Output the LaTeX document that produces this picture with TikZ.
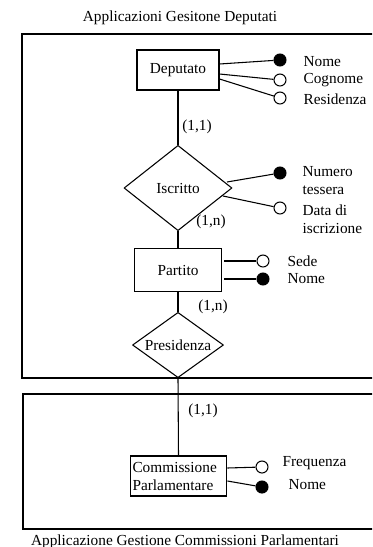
\documentclass[tikz,border=0pt]{standalone}
\usepackage{fontspec}
\setmainfont{Liberation Serif}
\usetikzlibrary{shapes.geometric,calc}
\begin{document}
\begin{tikzpicture}[x=0.75pt,y=-0.75pt, line width=0.8pt,
  every node/.style={font=\fontsize{11.5}{13.5}\selectfont},
  entity/.style={draw, rectangle, inner sep=0pt},
  rel/.style={draw, diamond, inner sep=0pt, line join=round},
  keyattr/.style={draw, fill=black, circle, inner sep=0pt, minimum size=9pt},
  attr/.style={draw, fill=white, circle, inner sep=0pt, minimum size=9pt},
  lbl/.style={anchor=west, inner sep=0pt, align=left},
  card/.style={inner sep=0pt}]
\useasboundingbox (0,0) rectangle (372,547);
\clip (0,0) rectangle (372,547);

% frames
\draw (22,34) rectangle (400,378);
\draw (23,394) rectangle (400,529);
\node[card] (t1) at (180,18) {Applicazioni Gesitone Deputati};
\node[card] (t2) at (185,542) {Applicazione Gestione Commissioni Parlamentari};

% entities and relationships
\node[entity, minimum width=61.5pt, minimum height=30pt] (dep) at (178,70) {Deputato};
\node[rel, aspect=1.27, minimum width=81pt, minimum height=64pt] (isc) at (178,188) {Iscritto};
\node[entity, minimum width=65.25pt, minimum height=32.25pt] (par) at (178,270) {Partito};
\node[rel, aspect=1.38, minimum width=68.25pt, minimum height=49pt] (pre) at (178,345) {Presidenza};
\node[entity, text width=69pt, align=left, inner xsep=1.8pt, minimum height=30pt] (com) at (178.5,476) {Commissione\\Parlamentare};

\draw (dep.south) -- (isc.north);
\draw (isc.south) -- (par.north);
\draw (par.south) -- (pre.north);
\draw (pre.south) -- (com.north);

% cardinalities
\node[card] (c1) at (197,127) {(1,1)};
\node[card] (c2) at (211,222) {(1,n)};
\node[card] (c3) at (213,307) {(1,n)};
\node[card] (c4) at (203,411) {(1,1)};

% Deputato attributes
\node[keyattr] (dnome) at (280,60) {};
\node[attr] (dcog) at (280,80) {};
\node[attr] (dres) at (280,98) {};
\draw ($(dep.east)+(0,-6)$) -- (dnome);
\draw ($(dep.east)+(0,4)$) -- (dcog);
\draw ($(dep.east)+(0,9)$) -- (dres);
\node[lbl] (ldnome) at (303,62) {Nome};
\node[lbl] (ldcog) at (303,80) {Cognome};
\node[lbl] (ldres) at (303,99) {Residenza};

% Iscritto attributes
\node[keyattr] (inum) at (280,173) {};
\node[attr] (idata) at (280,208) {};
\draw ($(isc.center)+(49,-6)$) -- (inum);
\draw ($(isc.center)+(45,8)$) -- (idata);
\node[lbl] (linum) at (302,181) {Numero\\tessera};
\node[lbl] (lidata) at (302,219) {Data di\\iscrizione};

% Partito attributes
\node[attr] (psede) at (263,261) {};
\node[keyattr] (pnome) at (263,279) {};
\draw ($(par.east)+(2,-9)$) -- (psede);
\draw ($(par.east)+(2,9)$) -- (pnome);
\node[lbl] (lpsede) at (287,261) {Sede};
\node[lbl] (lpnome) at (287,279) {Nome};

% Commissione attributes
\node[attr] (cfreq) at (262,467) {};
\node[keyattr] (cnome) at (262,487) {};
\draw ($(com.east)+(0,-8)$) -- (cfreq);
\draw ($(com.east)+(0,5)$) -- (cnome);
\node[lbl] (lcfreq) at (282,463) {Frequenza};
\node[lbl] (lcnome) at (288,485) {Nome};
\end{tikzpicture}
\end{document}
